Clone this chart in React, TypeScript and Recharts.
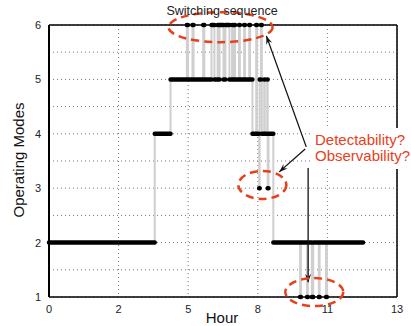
import React from "react";
import {
  CartesianGrid,
  Line,
  LineChart,
  ReferenceDot,
  ReferenceLine,
  XAxis,
  YAxis,
} from "recharts";

// switching sequence: time the mode starts, and the mode
const switchTimes = [
  0, 3.95, 4.54, 5.15, 5.19, 5.36, 5.4, 5.76, 5.8, 6.07, 6.18, 6.3, 6.33, 6.37,
  6.52, 6.59, 6.74, 6.84, 6.86, 6.92, 6.95, 7.1, 7.13, 7.29, 7.32, 7.48, 7.51,
  7.6, 7.74, 7.77, 7.85, 7.87, 7.92, 7.95, 8.04, 8.06, 8.15, 8.17, 8.2, 8.38,
  9.38, 9.41, 9.64, 9.67, 9.82, 9.87, 10.08, 10.11, 10.35, 10.38,
];
const switchModes = [
  2, 4, 5, 6, 5, 6, 5, 6, 5, 6, 5, 6, 5, 6, 5, 6, 5, 6, 5, 6, 5, 6, 5, 6, 5, 6,
  5, 4, 6, 4, 3, 5, 6, 4, 5, 4, 5, 3, 4, 2, 1, 2, 1, 2, 1, 2, 1, 2, 1, 2,
];
const endTime = 11.73;

const xTicks = [0, 2.6, 5.2, 7.8, 10.4, 13];
const xTickLabels = ["0", "2", "5", "8", "11", "13"];
const yTicks = [1, 1.5, 2, 2.5, 3, 3.5, 4, 4.5, 5, 5.5, 6];

// annotation ellipses (centre in data units)
const ellipses = [
  { x: 6.41, y: 5.96, rx: 52, ry: 15 },
  { x: 7.97, y: 3.06, rx: 24, ry: 14 },
  { x: 9.91, y: 1.09, rx: 29, ry: 14 },
];
const arrows = [
  { from: [9.61, 3.76], to: [8.12, 5.8] },
  { from: [9.57, 3.72], to: [8.6, 3.3] },
  { from: [9.68, 3.37], to: [9.68, 1.27] },
];

const RED = "#e8401c";
const FONT = "'Liberation Sans', Arial, sans-serif";

const stepData = switchTimes
  .map((t, i) => ({ t, mode: switchModes[i] }))
  .concat([{ t: endTime, mode: switchModes[switchModes.length - 1] }]);

const barData: { t: number; bar: number | null }[] = [];
switchTimes.forEach((t, i) => {
  const next = i < switchTimes.length - 1 ? switchTimes[i + 1] : endTime;
  barData.push({ t, bar: switchModes[i] });
  barData.push({ t: next, bar: switchModes[i] });
  barData.push({ t: next, bar: null });
});

const Ellipse = (rx: number, ry: number) => (p: any) =>
  (
    <ellipse
      cx={p.cx}
      cy={p.cy}
      rx={rx}
      ry={ry}
      fill="none"
      stroke={RED}
      strokeWidth={2.5}
      strokeDasharray="8 5"
    />
  );

const Arrow = (p: any) => {
  const { x1, y1, x2, y2 } = p;
  const a = Math.atan2(y2 - y1, x2 - x1);
  const L = 9;
  const w = 0.35;
  const pts = [
    [x2, y2],
    [x2 - L * Math.cos(a - w), y2 - L * Math.sin(a - w)],
    [x2 - L * 0.6 * Math.cos(a), y2 - L * 0.6 * Math.sin(a)],
    [x2 - L * Math.cos(a + w), y2 - L * Math.sin(a + w)],
  ]
    .map((q) => q.join(","))
    .join(" ");
  return (
    <g>
      <line x1={x1} y1={y1} x2={x2} y2={y2} stroke="#111" strokeWidth={1.3} />
      <polygon points={pts} fill="#111" />
    </g>
  );
};

export default function App() {
  return (
    <div
      style={{
        position: "absolute",
        left: 0,
        top: 0,
        width: 411,
        height: 326,
        background: "#fff",
        fontFamily: FONT,
      }}
    >
      <LineChart
        width={411}
        height={326}
        margin={{ top: 25, right: 14, bottom: 9, left: 0 }}
      >
        <CartesianGrid stroke="#777" strokeDasharray="1 3" />
        <XAxis
          type="number"
          dataKey="t"
          domain={[0, 13]}
          ticks={xTicks}
          tickFormatter={(v: number) => xTickLabels[xTicks.indexOf(v)]}
          height={20}
          tickLine={false}
          axisLine={{ stroke: "#000", strokeWidth: 1.5 }}
          tick={{ fontSize: 11, fill: "#222", fontFamily: FONT }}
          interval={0}
        />
        <YAxis
          type="number"
          domain={[1, 6]}
          ticks={yTicks}
          tickFormatter={(v: number) => (Number.isInteger(v) ? String(v) : "")}
          width={49}
          tickLine={false}
          axisLine={{ stroke: "#000", strokeWidth: 2 }}
          tick={{ fontSize: 11, fill: "#222", fontFamily: FONT }}
          interval={0}
        />
        <ReferenceLine y={6} stroke="#000" strokeWidth={1.5} />
        <ReferenceLine x={13} stroke="#000" strokeWidth={1.5} />
        <Line
          data={stepData}
          dataKey="mode"
          type="stepAfter"
          stroke="#cfcfcf"
          strokeWidth={2}
          dot={false}
          isAnimationActive={false}
        />
        <Line
          data={barData}
          dataKey="bar"
          type="linear"
          stroke="#000"
          strokeWidth={4.5}
          strokeLinecap="round"
          dot={false}
          connectNulls={false}
          isAnimationActive={false}
        />
        {ellipses.map((e, i) => (
          <ReferenceDot
            key={"e" + i}
            x={e.x}
            y={e.y}
            r={1}
            ifOverflow="visible"
            shape={Ellipse(e.rx, e.ry)}
          />
        ))}
        {arrows.map((a, i) => (
          <ReferenceLine
            key={"a" + i}
            segment={[
              { x: a.from[0], y: a.from[1] },
              { x: a.to[0], y: a.to[1] },
            ]}
            ifOverflow="visible"
            shape={Arrow}
          />
        ))}
      </LineChart>
      <div
        style={{
          position: "absolute",
          left: 0,
          width: 444,
          top: 4,
          textAlign: "center",
          fontSize: 12.5,
          color: "#222",
        }}
      >
        Switching sequence
      </div>
      <div
        style={{
          position: "absolute",
          left: 312,
          top: 128,
          width: 99,
          height: 41,
          background: "#fff",
          color: RED,
          fontSize: 15,
          lineHeight: "16px",
          paddingLeft: 3,
          boxSizing: "border-box",
          paddingTop: 4,
        }}
      >
        Detectability?
        <br />
        Observability?
      </div>
      <div
        style={{
          position: "absolute",
          left: 0,
          width: 444,
          top: 309,
          textAlign: "center",
          fontSize: 15,
          color: "#111",
        }}
      >
        Hour
      </div>
      <div
        style={{
          position: "absolute",
          left: 18,
          top: 160,
          transform: "translate(-50%, -50%) rotate(-90deg)",
          whiteSpace: "nowrap",
          fontSize: 15,
          color: "#111",
        }}
      >
        Operating Modes
      </div>
    </div>
  );
}
